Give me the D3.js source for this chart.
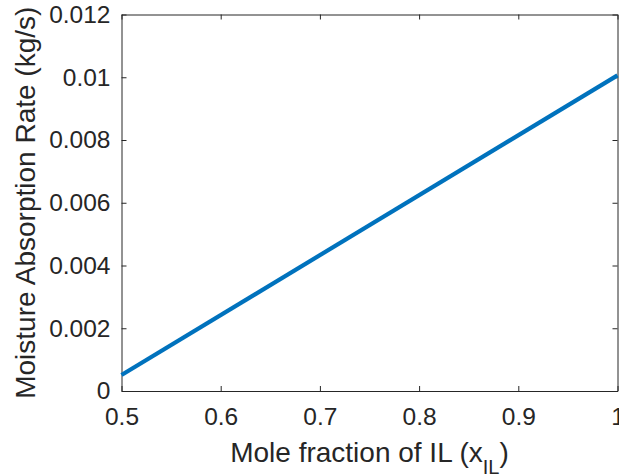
<!DOCTYPE html>
<html lang="en">
<head>
  <meta charset="utf-8" />
  <title>Moisture Absorption Rate</title>
  <script src="https://d3js.org/d3.v7.min.js"></script>
  <style>
    body { margin: 0; background: #fff; }
    svg text { font-family: "Liberation Sans", Arial, sans-serif; fill: #262626; }
  </style>
</head>
<body>
  <svg id="chart" width="619" height="475"></svg>
  <script>
    // data
    const xIL = [0.5, 1.0];
    const rate = [0.00051, 0.01006];
    const xTicks = [0.5, 0.6, 0.7, 0.8, 0.9, 1];
    const yTicks = [0, 0.002, 0.004, 0.006, 0.008, 0.01, 0.012];

    const svg = d3.select("#chart");
    const m = { left: 121.5, right: 617.5, top: 14.5, bottom: 391 };

    const x = d3.scaleLinear().domain([0.5, 1]).range([m.left, m.right]);
    const y = d3.scaleLinear().domain([0, 0.012]).range([m.bottom, m.top]);

    // box with inward ticks on all four sides
    const axisColor = "#262626";
    const fmt = d => d3.format("~g")(d);
    const axBottom = d3.axisBottom(x).tickValues(xTicks).tickSizeInner(-5).tickSizeOuter(0)
      .tickPadding(17).tickFormat(fmt);
    const axLeft = d3.axisLeft(y).tickValues(yTicks).tickSizeInner(-5).tickSizeOuter(0)
      .tickPadding(11).tickFormat(fmt);
    const axTop = d3.axisTop(x).tickValues(xTicks).tickSizeInner(-5).tickSizeOuter(0).tickFormat("");
    const axRight = d3.axisRight(y).tickValues(yTicks).tickSizeInner(-5).tickSizeOuter(0).tickFormat("");

    const gb = svg.append("g").attr("transform", `translate(0,${m.bottom})`).call(axBottom);
    const gl = svg.append("g").attr("transform", `translate(${m.left},0)`).call(axLeft);
    const gt = svg.append("g").attr("transform", `translate(0,${m.top})`).call(axTop);
    const gr = svg.append("g").attr("transform", `translate(${m.right},0)`).call(axRight);

    [gb, gl, gt, gr].forEach(g => {
      g.selectAll("path, line").attr("stroke", axisColor).attr("stroke-width", 1);
      g.selectAll("text").attr("font-size", 24.5).attr("fill", axisColor);
    });

    // data line
    const line = d3.line().x((d, i) => x(xIL[i])).y(d => y(d));
    svg.append("path")
      .datum(rate)
      .attr("d", line)
      .attr("fill", "none")
      .attr("stroke", "#0072BD")
      .attr("stroke-width", 4.2);

    // axis labels
    const xl = svg.append("text")
      .attr("x", (m.left + m.right) / 2)
      .attr("y", 461.5)
      .attr("text-anchor", "middle")
      .attr("font-size", 28);
    xl.append("tspan").text("Mole fraction of IL (x");
    xl.append("tspan").attr("font-size", 20).attr("dy", 12).text("IL");
    xl.append("tspan").attr("dy", -12).text(")");

    svg.append("text")
      .attr("transform", `translate(35,${(m.top + m.bottom) / 2}) rotate(-90)`)
      .attr("text-anchor", "middle")
      .attr("font-size", 28)
      .text("Moisture Absorption Rate (kg/s)");
  </script>
</body>
</html>
